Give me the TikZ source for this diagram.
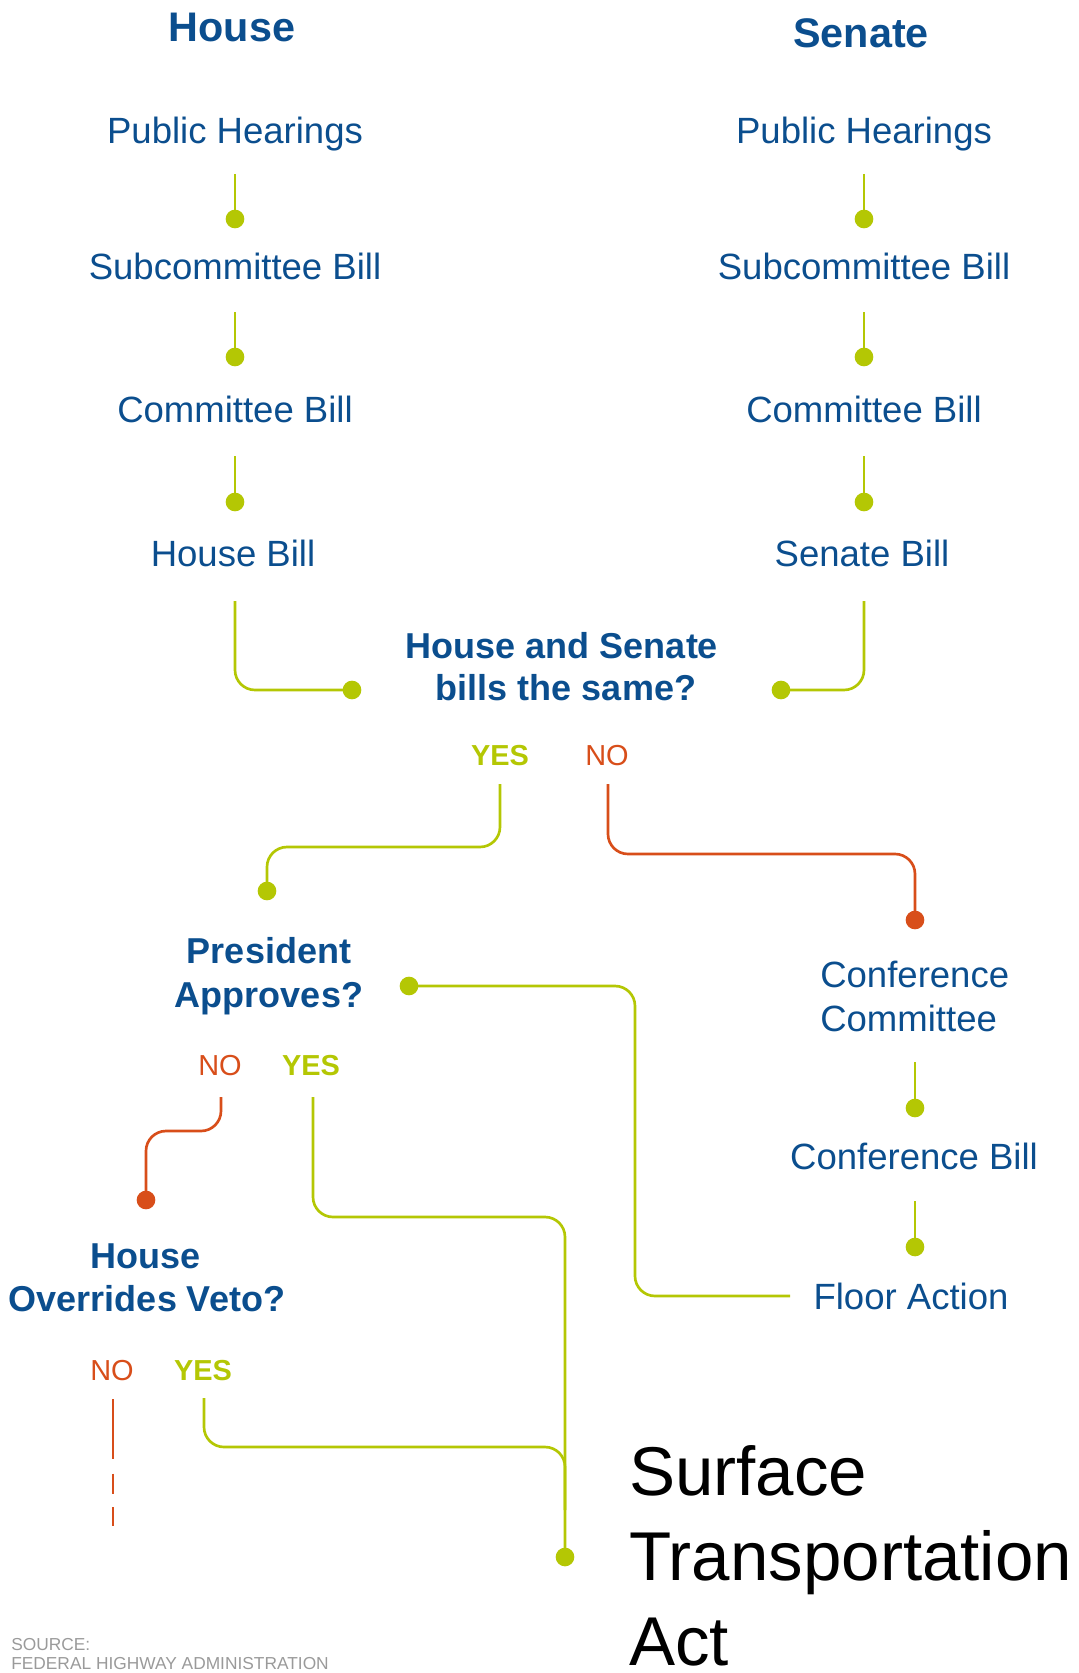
\documentclass[tikz,border=0pt]{standalone}
\usepackage{fontspec}
\setmainfont{Liberation Sans}
\definecolor{cblue}{HTML}{0B4E8E}
\definecolor{cgreen}{HTML}{B4C704}
\definecolor{corange}{HTML}{D84E1A}
\definecolor{cgrey}{HTML}{9A9A9A}
\begin{document}
\begin{tikzpicture}[x=0.75pt,y=-0.75pt,
  txt/.style={inner sep=0pt,anchor=base},
  ttl/.style={txt,text=cblue,font=\fontsize{31pt}{36pt}\selectfont\bfseries},
  lbl/.style={txt,text=cblue,font=\fontsize{27.4pt}{32pt}\selectfont},
  qst/.style={txt,text=cblue,font=\fontsize{27pt}{32pt}\selectfont\bfseries},
  yes/.style={txt,text=cgreen,font=\fontsize{21.7pt}{26pt}\selectfont\bfseries},
  nolbl/.style={txt,text=corange,font=\fontsize{21.7pt}{26pt}\selectfont},
  big/.style={txt,anchor=base west,text=black,font=\fontsize{51.8pt}{60pt}\selectfont},
  src/.style={txt,anchor=base west,text=cgrey,font=\fontsize{13pt}{15pt}\selectfont},
  gline/.style={draw=cgreen,line width=2pt,rounded corners=15pt},
  oline/.style={draw=corange,line width=2pt,rounded corners=15pt},
  gdot/.style={circle,fill=cgreen,inner sep=0pt,minimum size=14pt},
  odot/.style={circle,fill=corange,inner sep=0pt,minimum size=14pt}]
\useasboundingbox (0,0) rectangle (1078,1673);

% titles
\node[ttl] (th) at (232,42) {House};
\node[ttl] (ts) at (861,48) {Senate};

% house column
\node[lbl] (hph) at (235,144) {Public Hearings};
\node[lbl] (hsb) at (235,279) {Subcommittee Bill};
\node[lbl] (hcb) at (235,422) {Committee Bill};
\node[lbl] (hhb) at (233,566) {House Bill};
% senate column
\node[lbl] (sph) at (864,144) {Public Hearings};
\node[lbl] (ssb) at (864,279) {Subcommittee Bill};
\node[lbl] (scb) at (864,422) {Committee Bill};
\node[lbl] (ssn) at (862,566) {Senate Bill};

% column connectors
\coordinate (h1s) at (235,174); \node[gdot] (h1d) at (235,219) {};
\coordinate (h2s) at (235,312); \node[gdot] (h2d) at (235,357) {};
\coordinate (h3s) at (235,456); \node[gdot] (h3d) at (235,502) {};
\coordinate (s1s) at (864,174); \node[gdot] (s1d) at (864,219) {};
\coordinate (s2s) at (864,312); \node[gdot] (s2d) at (864,357) {};
\coordinate (s3s) at (864,456); \node[gdot] (s3d) at (864,502) {};
\draw[gline] (h1s) -- (h1d.center);
\draw[gline] (h2s) -- (h2d.center);
\draw[gline] (h3s) -- (h3d.center);
\draw[gline] (s1s) -- (s1d.center);
\draw[gline] (s2s) -- (s2d.center);
\draw[gline] (s3s) -- (s3d.center);

% question 1
\node[qst] (q1a) at (562,658) {House and Senate};
\node[qst] (q1b) at (566,700) {bills the same?};
\coordinate (hLs) at (235,601); \node[gdot] (hLd) at (352,690) {};
\coordinate (sLs) at (864,601); \node[gdot] (sLd) at (781,690) {};
\draw[gline] (hLs) |- (hLd.center);
\draw[gline] (sLs) |- (sLd.center);

\node[yes] (y1) at (500,765) {YES};
\node[nolbl] (n1) at (607,765) {NO};
\coordinate (y1s) at (500,784); \node[gdot] (y1d) at (267,891) {};
\draw[gline] (y1s) -- (500,847) -- (267,847) -- (y1d.center);
\coordinate (n1s) at (608,784); \node[odot] (n1d) at (915,920) {};
\draw[oline] (n1s) -- (608,854) -- (915,854) -- (n1d.center);

% conference branch
\node[lbl,anchor=base west] (cc1) at (820,987) {Conference};
\node[lbl,anchor=base west] (cc2) at (820,1031) {Committee};
\node[lbl] (cfb) at (914,1169) {Conference Bill};
\node[lbl] (fla) at (911,1309) {Floor Action};
\coordinate (c1s) at (915,1062); \node[gdot] (c1d) at (915,1108) {};
\coordinate (c2s) at (915,1201); \node[gdot] (c2d) at (915,1247) {};
\draw[gline] (c1s) -- (c1d.center);
\draw[gline] (c2s) -- (c2d.center);

% president
\node[qst] (pa) at (269,963) {President};
\node[qst] (pb) at (269,1007) {Approves?};
\node[gdot] (pd) at (409,986) {};
\coordinate (fle) at (790,1296);
\draw[gline] (fle) -- (635,1296) -- (635,986) -- (pd.center);

\node[nolbl] (n2) at (220,1075) {NO};
\node[yes] (y2) at (311,1075) {YES};
\coordinate (n2s) at (221,1097); \node[odot] (n2d) at (146,1200) {};
\draw[oline] (n2s) -- (221,1131) -- (146,1131) -- (n2d.center);
\coordinate (y2s) at (313,1097); \node[gdot] (actd) at (565,1557) {};
\draw[gline] (y2s) -- (313,1217) -- (565,1217) -- (actd.center);

% veto
\node[qst] (va) at (146,1268) {House};
\node[qst] (vb) at (147,1311) {Overrides Veto?};
\node[nolbl] (n3) at (112,1380) {NO};
\node[yes] (y3) at (203,1380) {YES};
\coordinate (n3s) at (113,1399); \coordinate (n3e) at (113,1526);
\draw[draw=corange,line width=2pt,dash pattern=on 45pt off 11pt on 15pt off 10pt on 14pt off 100pt] (n3s) -- (n3e);
\coordinate (y3s) at (204,1398); \coordinate (y3e) at (565,1510);
\draw[gline] (y3s) -- (204,1447) -- (565,1447) -- (y3e);

% result
\node[big] (r1) at (629,1495) {Surface};
\node[big] (r2) at (629,1580) {Transportation};
\node[big] (r3) at (629,1665) {Act};

% source
\node[src] (src1) at (11,1650) {SOURCE:};
\node[src] (src2) at (11,1669) {FEDERAL HIGHWAY ADMINISTRATION};
\end{tikzpicture}
\end{document}
